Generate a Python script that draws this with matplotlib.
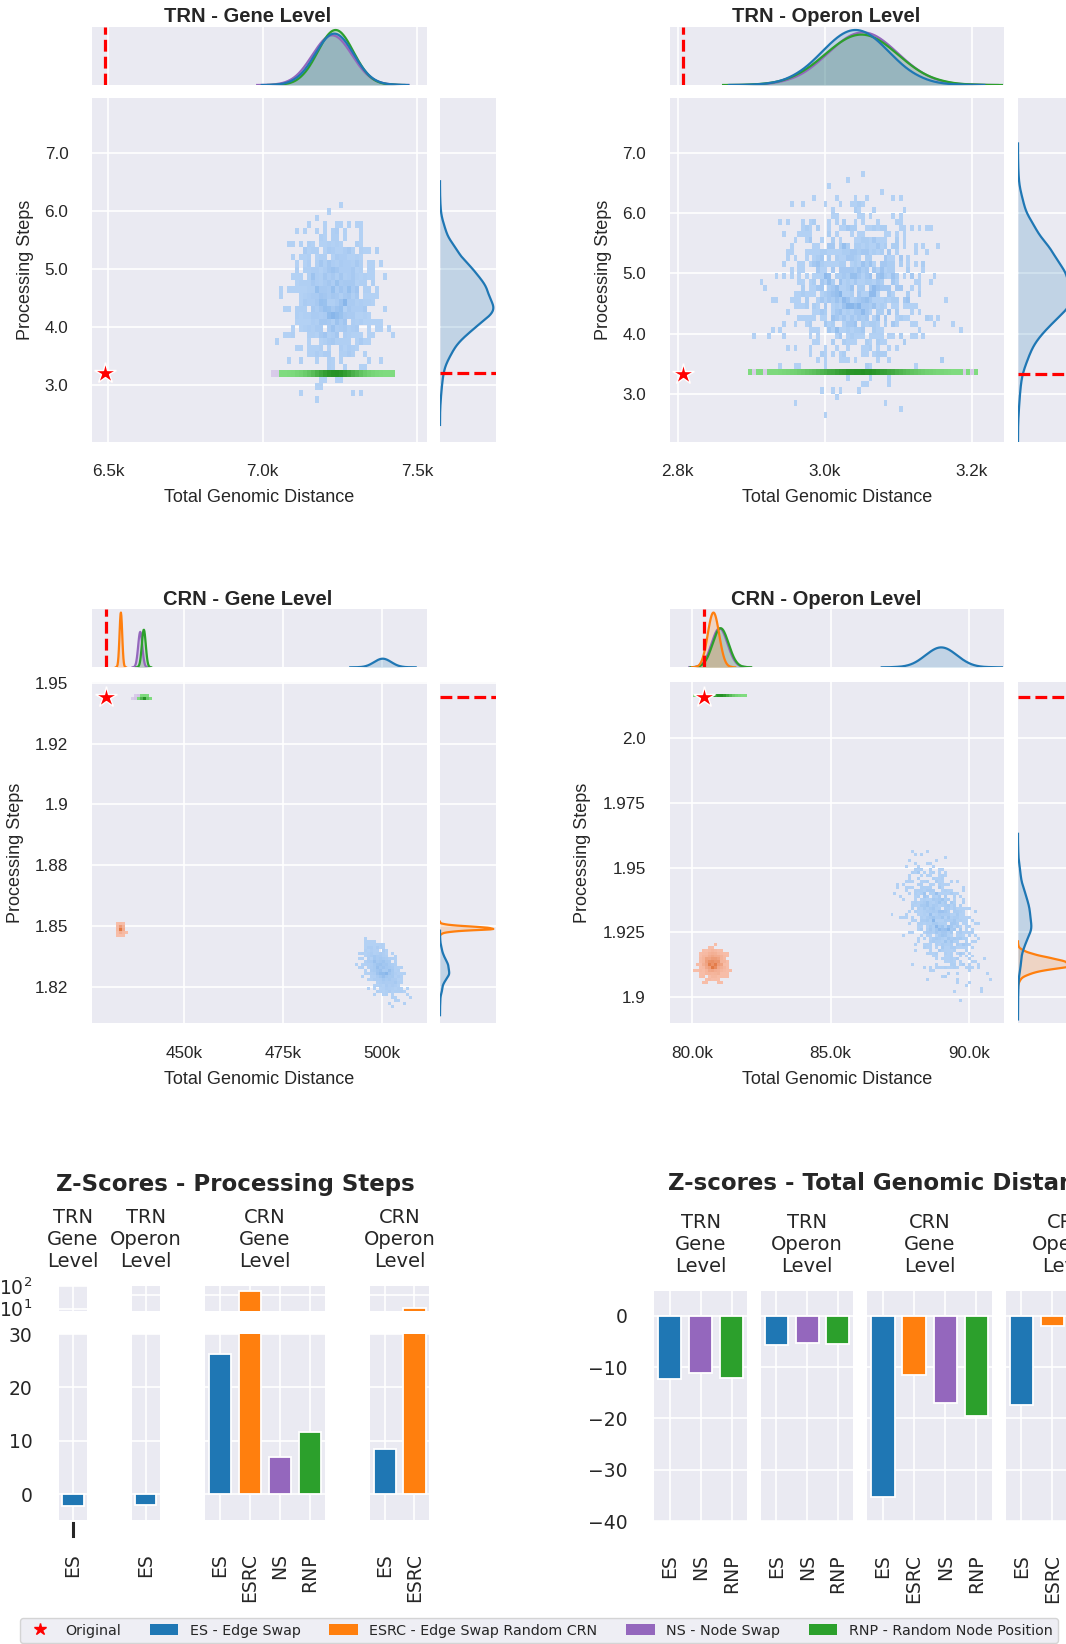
import numpy as np
import matplotlib
matplotlib.use("Agg")
import matplotlib.pyplot as plt
from matplotlib.colors import LinearSegmentedColormap
from matplotlib.patches import Patch
from matplotlib.lines import Line2D
from matplotlib.ticker import NullLocator
from statistics import NormalDist

# ---------------------------------------------------------------- data
methods = ["ES", "ESRC", "NS", "RNP"]
method_names = ["ES - Edge Swap", "ESRC - Edge Swap Random CRN",
                "NS - Node Swap", "RNP - Random Node Position"]
method_colors = ["#1f77b4", "#ff7f0e", "#9467bd", "#2ca02c"]
cell_light = ["#b3d1f4", "#f7bda8", "#d8cbe9", "#7fdb7f"]
cell_dark = ["#88b6ea", "#e27843", "#9a76c4", "#259225"]

panel_titles = ["TRN - Gene Level", "TRN - Operon Level",
                "CRN - Gene Level", "CRN - Operon Level"]
original_distance = [6490, 2807, 430300, 80410]
original_steps = [3.206, 3.336, 1.9441, 2.0161]

# summaries of the randomised-network samples read from each cloud
# order of inner lists: ES, ESRC, NS, RNP   (None = not run for that network)
n_samples = 1000
dist_mean = [[7232, None, 7225, 7236],
             [3042, None, 3052, 3050],
             [500200, 434000, 438900, 439800],
             [89000, 80760, 80980, 81020]]
dist_sd = [[60, None, 62, 56],
           [44, None, 46, 48],
           [2100, 330, 510, 480],
           [550, 200, 280, 280]]
steps_mean = [[4.5, None, 3.206, 3.206],
              [4.78, None, 3.336, 3.336],
              [1.832, 1.849, 1.9438, 1.9437],
              [1.930, 1.9128, 2.0161, 2.0161]]
steps_sd = [[0.55, None, 0.0, 0.0],
            [0.65, None, 0.0, 0.0],
            [0.0046, 0.0008, 0.0002, 0.0002],
            [0.0095, 0.0024, 0.0, 0.0]]
steps_corr = [[0.0, None, 0.0, 0.0],
              [0.0, None, 0.0, 0.0],
              [-0.5, 0.0, 0.0, 0.0],
              [-0.45, 0.0, 0.0, 0.0]]
steps_kde_methods = [["ES"], ["ES"], ["ES", "ESRC"], ["ES", "ESRC"]]

dist_lim = [(6447, 7532), (2789, 3244), (426700, 511400), (79170, 91270)]
steps_lim = [(2.03, 7.935), (2.215, 7.90), (1.810, 1.9502), (1.8897, 2.0217)]
dist_ticks = [[6500, 7000, 7500], [2800, 3000, 3200],
              [450000, 475000, 500000], [80000, 85000, 90000]]
dist_ticklabels = [["6.5k", "7.0k", "7.5k"], ["2.8k", "3.0k", "3.2k"],
                   ["450k", "475k", "500k"], ["80.0k", "85.0k", "90.0k"]]
steps_ticks = [[3, 4, 5, 6, 7], [3, 4, 5, 6, 7],
               [1.825, 1.85, 1.875, 1.9, 1.925, 1.95],
               [1.9, 1.925, 1.95, 1.975, 2.0]]
steps_ticklabels = [["3.0", "4.0", "5.0", "6.0", "7.0"],
                    ["3.0", "4.0", "5.0", "6.0", "7.0"],
                    ["1.82", "1.85", "1.88", "1.9", "1.92", "1.95"],
                    ["1.9", "1.925", "1.95", "1.975", "2.0"]]
hist_bins = [(84, 53), (89, 57), (112, 114), (112, 114)]

group_names = ["TRN\nGene\nLevel", "TRN\nOperon\nLevel",
               "CRN\nGene\nLevel", "CRN\nOperon\nLevel"]
steps_z_methods = [["ES"], ["ES"], ["ES", "ESRC", "NS", "RNP"], ["ES", "ESRC"]]
steps_z_values = [[-2.3], [-2.1], [26.3, 133.0, 7.0, 11.7], [8.4, 35.5]]
dist_z_methods = [["ES", "NS", "RNP"], ["ES", "NS", "RNP"],
                  ["ES", "ESRC", "NS", "RNP"], ["ES", "ESRC", "NS", "RNP"]]
dist_z_values = [[-12.4, -11.1, -12.1], [-5.6, -5.3, -5.4],
                 [-35.3, -11.6, -16.9, -19.5], [-17.4, -1.9, -2.0, -2.1]]

# ---------------------------------------------------------------- style
W, H = 1066, 1644
plt.rcParams.update({
    "font.family": ["DejaVu Sans"],
    "axes.facecolor": "#EAEAF2",
    "axes.edgecolor": "white",
    "axes.grid": True,
    "axes.axisbelow": True,
    "grid.color": "white",
    "grid.linewidth": 1.2,
    "xtick.major.size": 0, "ytick.major.size": 0,
    "xtick.minor.size": 0, "ytick.minor.size": 0,
    "text.color": "#262626", "xtick.color": "#262626", "ytick.color": "#262626",
    "axes.labelcolor": "#262626",
    "axes.spines.left": False, "axes.spines.right": False,
    "axes.spines.top": False, "axes.spines.bottom": False,
    "mathtext.fontset": "dejavusans",
})
ARIAL = ["Liberation Sans", "DejaVu Sans"]

fig = plt.figure(figsize=(W / 100, H / 100), dpi=100)
fig.patch.set_facecolor("white")


def box(x0, y0, x1, y1):
    return [x0 / W, 1 - y1 / H, (x1 - x0) / W, (y1 - y0) / H]


_nd = NormalDist()


def quasi_normal(n, offset):
    k = np.arange(1, n + 1, dtype=float) + offset
    u = np.mod(k * 0.6180339887498949 + 0.31, 1.0)
    v = np.mod(k * k * 0.4142135623730951 + k * 0.7320508075688772, 1.0)
    u = np.clip(u, 6e-4, 1 - 6e-4)
    v = np.clip(v, 6e-4, 1 - 6e-4)
    z1 = np.array([_nd.inv_cdf(t) for t in u])
    z2 = np.array([_nd.inv_cdf(t) for t in v])
    return z1, z2


def kde(samples, grid):
    sd = samples.std(ddof=1)
    bw = sd * len(samples) ** (-0.2)
    z = (grid[:, None] - samples[None, :]) / bw
    return np.exp(-0.5 * z ** 2).sum(1) / (len(samples) * bw * np.sqrt(2 * np.pi)), bw


# ---------------------------------------------------------------- joint panels
joint_x = [(92, 427), (669.5, 1004), (92, 427), (669.5, 1004)]
right_x = [(440, 496), (1018, 1074), (440, 496), (1018, 1074)]
top_y = [(26.7, 85), (26.7, 85), (609.3, 667.3), (609.3, 667.3)]
joint_y = [(98.3, 441.7), (98.3, 441.7), (682.3, 1023.3), (682.3, 1023.3)]
title_xy = [(248, 16), (826.5, 16), (248, 599.3), (826, 599.3)]
ylabel_x = [25.6, 603, 15.4, 582.5]
xlabel_y = [497, 497, 1080, 1080]
draw_order = [2, 3, 1, 0]   # NS, RNP, ESRC, ES

for p in range(4):
    jx0, jx1 = joint_x[p]
    jy0, jy1 = joint_y[p]
    axj = fig.add_axes(box(jx0, jy0, jx1, jy1))
    axt = fig.add_axes(box(jx0, top_y[p][0], jx1, top_y[p][1]))
    axr = fig.add_axes(box(right_x[p][0], jy0, right_x[p][1], jy1))

    xe = np.linspace(dist_lim[p][0], dist_lim[p][1], hist_bins[p][0] + 1)
    ye = np.linspace(steps_lim[p][0], steps_lim[p][1], hist_bins[p][1] + 1)
    samples = {}
    for m in [1, 0, 2, 3]:
        if dist_mean[p][m] is None:
            continue
        z1, z2 = quasi_normal(n_samples, 37 * p + 11 * m)
        r = steps_corr[p][m]
        x = dist_mean[p][m] + dist_sd[p][m] * z1
        y = steps_mean[p][m] + steps_sd[p][m] * (r * z1 + np.sqrt(1 - r * r) * z2)
        samples[m] = (x, y)

    # 2-D histograms
    for m in [0, 1, 2, 3]:
        if m not in samples:
            continue
        x, y = samples[m]
        cnt, _, _ = np.histogram2d(x, y, bins=[xe, ye])
        cm = LinearSegmentedColormap.from_list(f"c{m}", [cell_light[m], cell_dark[m]])
        axj.pcolormesh(xe, ye, np.ma.masked_equal(cnt.T, 0), cmap=cm,
                       vmin=1, vmax=max(cnt.max(), 2), shading="flat", zorder=1)
    axj.plot(original_distance[p], original_steps[p], marker="*", color="red",
             markersize=16, markeredgecolor="white", markeredgewidth=1.0,
             linestyle="none", zorder=5)

    axj.set_xlim(*dist_lim[p])
    axj.set_ylim(*steps_lim[p])
    axj.set_xticks(dist_ticks[p])
    axj.set_xticklabels(dist_ticklabels[p], family=ARIAL, fontsize=12.3)
    axj.set_yticks(steps_ticks[p])
    axj.set_yticklabels(steps_ticklabels[p], family=ARIAL, fontsize=12.3)
    axj.tick_params(axis="x", pad=16)
    axj.tick_params(axis="y", pad=17)
    axj.set_xlabel("Total Genomic Distance", family=ARIAL, fontsize=13, va="center")
    axj.set_ylabel("Processing Steps", family=ARIAL, fontsize=13, va="center")
    axj.xaxis.set_label_coords(0.5, (jy1 - xlabel_y[p]) / (jy1 - jy0))
    axj.yaxis.set_label_coords((ylabel_x[p] - jx0) / (jx1 - jx0), 0.5)

    # top marginal: KDE of distance
    grid = np.linspace(dist_lim[p][0], dist_lim[p][1], 800)
    top_max = 0
    for m in draw_order:
        if m not in samples:
            continue
        x = samples[m][0]
        d, bw = kde(x, grid)
        sel = (grid >= x.min() - 3 * bw) & (grid <= x.max() + 3 * bw)
        axt.fill_between(grid[sel], 0, d[sel], color=method_colors[m], alpha=0.2, lw=0)
        axt.plot(grid[sel], d[sel], color=method_colors[m], lw=1.6)
        top_max = max(top_max, d.max())
    axt.axvline(original_distance[p], color="red", ls="--", lw=2.3)
    axt.set_xlim(*dist_lim[p])
    axt.set_ylim(0, top_max * 1.06)
    axt.set_xticks(dist_ticks[p])
    axt.set_xticklabels([])
    axt.set_yticks([])
    axt.grid(axis="y", visible=False)

    # right marginal: KDE of processing steps
    gy = np.linspace(steps_lim[p][0], steps_lim[p][1], 800)
    r_max = 0
    for m in draw_order:
        if m not in samples or methods[m] not in steps_kde_methods[p]:
            continue
        y = samples[m][1]
        d, bw = kde(y, gy)
        sel = (gy >= y.min() - 3 * bw) & (gy <= y.max() + 3 * bw)
        axr.fill_betweenx(gy[sel], 0, d[sel], color=method_colors[m], alpha=0.2, lw=0)
        axr.plot(d[sel], gy[sel], color=method_colors[m], lw=1.6)
        r_max = max(r_max, d.max())
    axr.axhline(original_steps[p], color="red", ls="--", lw=2.3)
    axr.set_ylim(*steps_lim[p])
    axr.set_xlim(0, r_max * 1.05)
    axr.set_yticks(steps_ticks[p])
    axr.set_yticklabels([])
    axr.set_xticks([])
    axr.grid(axis="x", visible=False)

    fig.text(title_xy[p][0] / W, 1 - title_xy[p][1] / H, panel_titles[p],
             family=ARIAL, fontsize=14.5, fontweight="bold", ha="center", va="center")

# ---------------------------------------------------------------- z-score bars
TICK_FS = 13.5


def bars(ax, names, values):
    xs = np.arange(len(names))
    ax.bar(xs, values, width=0.75,
           color=[method_colors[methods.index(n)] for n in names],
           edgecolor="white", linewidth=1.3, zorder=2)
    ax.set_xlim(-0.5, len(names) - 0.5)
    ax.set_xticks(xs)
    return xs


# left: processing steps (broken axis, log upper part)
ps_x = [(58.7, 87.3), (131.7, 160), (205, 325), (370, 429.3)]
ps_upper_y = (1286.3, 1310.7)
ps_lower_y = (1334, 1520)
ps_upper_lim = [(8, 100), (30, 189), (30, 189), (30, 189)]
for g in range(4):
    x0, x1 = ps_x[g]
    axu = fig.add_axes(box(x0, ps_upper_y[0], x1, ps_upper_y[1]))
    axl = fig.add_axes(box(x0, ps_lower_y[0], x1, ps_lower_y[1]))
    axu.set_yscale("log")
    bars(axu, steps_z_methods[g], steps_z_values[g])
    xs = bars(axl, steps_z_methods[g], steps_z_values[g])
    axu.set_ylim(*ps_upper_lim[g])
    axu.yaxis.set_minor_locator(NullLocator())
    axu.set_xticklabels([])
    axl.set_ylim(-4.875, 30)
    axl.set_yticks([0, 10, 20, 30])
    axl.set_xticklabels(steps_z_methods[g], rotation=90, fontsize=TICK_FS, va="top")
    axl.tick_params(axis="x", pad=24)
    if g == 0:
        axu.set_yticks([10, 100])
        axu.set_yticklabels(["$10^{1}$", "$10^{2}$"], fontsize=TICK_FS)
        axl.set_yticklabels(["0", "10", "20", "30"], fontsize=TICK_FS)
        axu.tick_params(axis="y", pad=19)
        axl.tick_params(axis="y", pad=19)
        axl.plot([0, 0], [-0.018, -0.086], transform=axl.get_xaxis_transform(),
                 clip_on=False, color="#262626", lw=2.2)
    else:
        axu.set_yticks([100])
        axu.set_yticklabels([])
        axl.set_yticklabels([])
    fig.text((x0 + x1) / 2 / W, 1 - 1239 / H, group_names[g], ha="center",
             va="center", fontsize=14)

fig.text(235 / W, 1 - 1184 / H, "Z-Scores - Processing Steps", ha="center",
         va="center", fontsize=16.5, fontweight="bold")

# right: total genomic distance
gd_x = [(654.3, 747.3), (761, 853.3), (867.3, 992), (1005.7, 1130.4)]
gd_y = (1291, 1521)
for g in range(4):
    x0, x1 = gd_x[g]
    ax = fig.add_axes(box(x0, gd_y[0], x1, gd_y[1]))
    bars(ax, dist_z_methods[g], dist_z_values[g])
    ax.set_ylim(-39.67, 4.84)
    ax.set_yticks([0, -10, -20, -30, -40])
    ax.set_xticklabels(dist_z_methods[g], rotation=90, fontsize=TICK_FS, va="top")
    ax.tick_params(axis="x", pad=24)
    if g == 0:
        ax.tick_params(axis="y", labelsize=TICK_FS, pad=19)
    else:
        ax.set_yticklabels([])
    fig.text((x0 + x1) / 2 / W, 1 - 1244.3 / H, group_names[g], ha="center",
             va="center", fontsize=14)

fig.text(668 / W, 1 - 1183 / H, "Z-scores - Total Genomic Distance", ha="left",
         va="center", fontsize=16.5, fontweight="bold")

# ---------------------------------------------------------------- legend
handles = [Line2D([], [], marker="*", color="red", linestyle="none", markersize=9)]
handles += [Patch(facecolor=c) for c in method_colors]
fig.legend(handles, ["Original"] + method_names, loc="center",
           bbox_to_anchor=(539 / W, 1 - 1630.5 / H), ncol=5, fontsize=10.3,
           frameon=True, facecolor="#EAEAF2", edgecolor="#cccccc", framealpha=0.8)

fig.savefig("out.png", dpi=100)
